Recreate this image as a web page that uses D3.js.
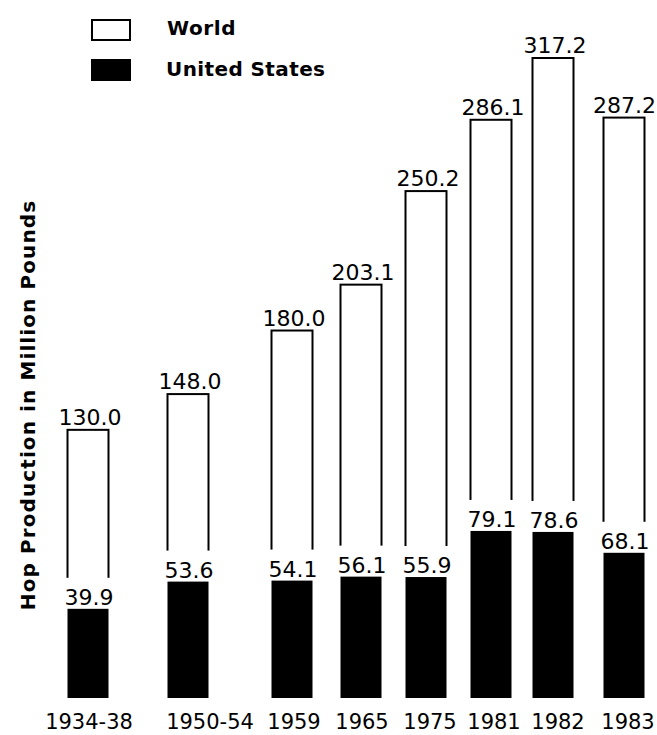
<!DOCTYPE html>
<html>
<head>
<meta charset="utf-8">
<script src="https://cdn.jsdelivr.net/npm/d3@7/dist/d3.min.js"></script>
<style>
  html, body { margin: 0; padding: 0; background: #fff; }
  svg { display: block; }
  text { font-family: "DejaVu Sans", sans-serif; fill: #000; }
</style>
</head>
<body>
<svg id="chart" width="657" height="735"></svg>
<script>
// ---- data ----
const categories = ["1934-38", "1950-54", "1959", "1965", "1975", "1981", "1982", "1983"];
const worldValues = [130.0, 148.0, 180.0, 203.1, 250.2, 286.1, 317.2, 287.2];
const usValues = [39.9, 53.6, 54.1, 56.1, 55.9, 79.1, 78.6, 68.1];
const worldLabels = ["130.0", "148.0", "180.0", "203.1", "250.2", "286.1", "317.2", "287.2"];
const usLabels = ["39.9", "53.6", "54.1", "56.1", "55.9", "79.1", "78.6", "68.1"];
const seriesNames = ["World", "United States"];
const yTitle = "Hop Production in Million Pounds";

// ---- layout (hand-placed columns as in the original drawing) ----
const W = 657;
const barCenters = [88, 188, 292, 361, 426, 491, 553, 624];
const labelCenters = [89, 210, 294, 362, 430, 494, 558, 628];
const barWidth = 41;
const floorValue = -5; // bars run slightly below the zero line in the original

const svg = d3.select("#chart");

const x = d3.scaleOrdinal().domain(categories).range(barCenters);
const xLabel = d3.scaleOrdinal().domain(categories).range(labelCenters);
const y = d3.scaleLinear().domain([floorValue, 317.2]).range([698, 58]);

const rows = categories.map((c, i) => ({
  cat: c, world: worldValues[i], us: usValues[i],
  wl: worldLabels[i], ul: usLabels[i]
}));

const g = svg.append("g");

// World outline bars
g.selectAll("rect.world").data(rows).enter().append("rect")
  .attr("class", "world")
  .attr("x", d => x(d.cat) - barWidth / 2)
  .attr("y", d => y(d.world))
  .attr("width", barWidth)
  .attr("height", d => y(d.us) - y(d.world))
  .attr("fill", "#fff")
  .attr("stroke", "#000")
  .attr("stroke-width", 2);

// white gap behind US labels
g.selectAll("rect.gap").data(rows).enter().append("rect")
  .attr("x", d => x(d.cat) - barWidth / 2 - 3)
  .attr("y", d => y(d.us) - 31)
  .attr("width", barWidth + 6)
  .attr("height", 33)
  .attr("fill", "#fff");

// US black bars
g.selectAll("rect.us").data(rows).enter().append("rect")
  .attr("class", "us")
  .attr("x", d => x(d.cat) - barWidth / 2)
  .attr("y", d => y(d.us))
  .attr("width", barWidth)
  .attr("height", d => y(floorValue) - y(d.us))
  .attr("fill", "#000");

// value labels
function fitX(t, cx) {
  const w = t.node().getComputedTextLength();
  return Math.min(cx, W - 1 - w / 2);
}
g.selectAll("text.wl").data(rows).enter().append("text")
  .attr("text-anchor", "middle")
  .attr("font-size", 22)
  .attr("y", d => y(d.world) - 5)
  .text(d => d.wl)
  .each(function(d) {
    const t = d3.select(this);
    t.attr("x", fitX(t, x(d.cat) + 2));
  });

g.selectAll("text.ul").data(rows).enter().append("text")
  .attr("text-anchor", "middle")
  .attr("font-size", 22)
  .attr("y", d => y(d.us) - 4)
  .text(d => d.ul)
  .each(function(d) {
    const t = d3.select(this);
    t.attr("x", fitX(t, x(d.cat) + 1));
  });

// category labels
g.selectAll("text.cat").data(rows).enter().append("text")
  .attr("text-anchor", "middle")
  .attr("font-size", 21)
  .attr("y", 729)
  .text(d => d.cat)
  .each(function(d) {
    const t = d3.select(this);
    t.attr("x", fitX(t, xLabel(d.cat)));
  });

// y title
svg.append("text")
  .attr("transform", "translate(35,405) rotate(-90)")
  .attr("text-anchor", "middle")
  .attr("font-size", 20)
  .attr("font-weight", "bold")
  .attr("letter-spacing", 1.1)
  .text(yTitle);

// legend
const legend = svg.append("g");
legend.append("rect").attr("x", 92).attr("y", 20).attr("width", 38).attr("height", 20)
  .attr("fill", "#fff").attr("stroke", "#000").attr("stroke-width", 2);
legend.append("rect").attr("x", 91).attr("y", 59).attr("width", 40).attr("height", 22)
  .attr("fill", "#000");
legend.append("text").attr("x", 167).attr("y", 35).attr("font-size", 20)
  .attr("font-weight", "bold").attr("letter-spacing", 0.6).text(seriesNames[0]);
legend.append("text").attr("x", 166).attr("y", 76).attr("font-size", 20)
  .attr("font-weight", "bold").attr("letter-spacing", 0.4).text(seriesNames[1]);
</script>
</body>
</html>
